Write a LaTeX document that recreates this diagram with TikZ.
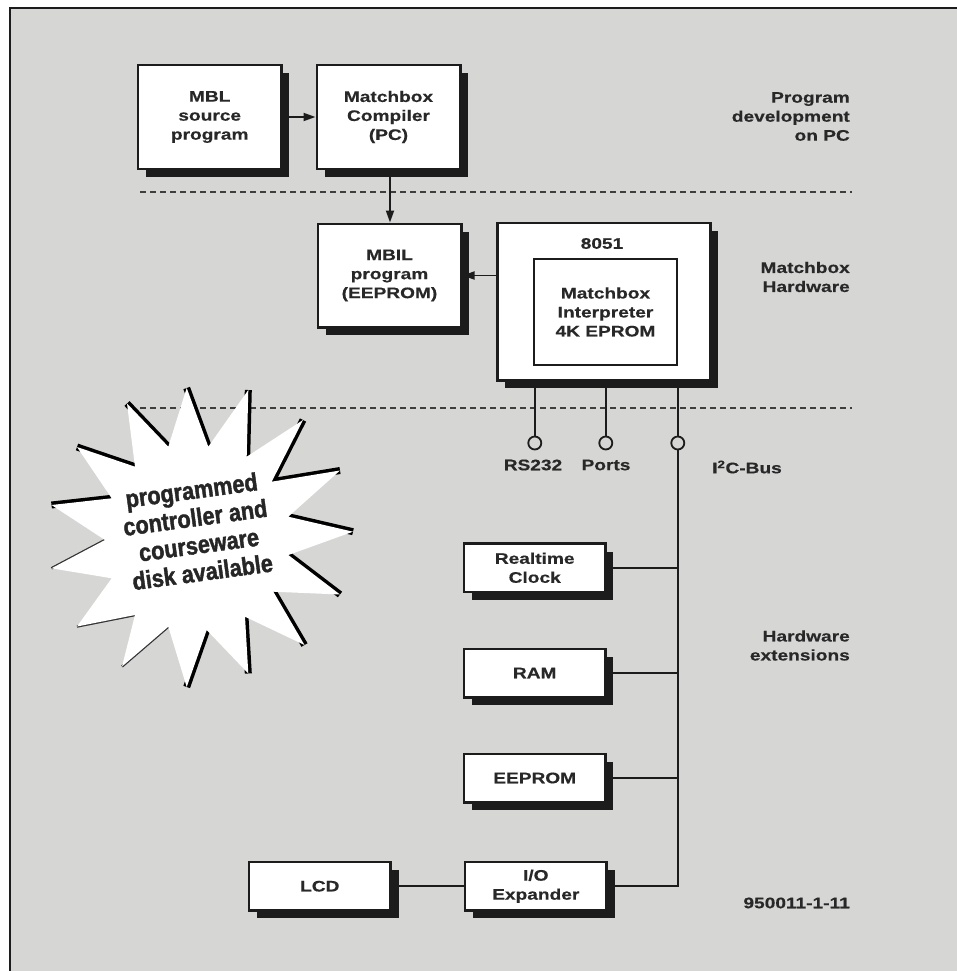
\documentclass[tikz,border=0pt]{standalone}
\usepackage{fontspec}
\usetikzlibrary{arrows.meta,shadows}
\newfontfamily\lblfont[FakeStretch=1.25,FakeBold=0.4]{Liberation Sans}
\newfontfamily\burstfont[FakeStretch=0.87,FakeBold=1.5]{Liberation Sans}
\definecolor{paper}{RGB}{214,214,212}
\definecolor{ink}{RGB}{28,28,28}
\definecolor{txt}{RGB}{40,40,40}
\tikzset{
  lbl/.style={font=\lblfont\bfseries\fontsize{15.3}{19}\selectfont, text=txt, align=center, inner sep=0pt},
  rlbl/.style={lbl, align=right, anchor=east},
  shadowbox/.style={draw=ink, line width=2.5pt, fill=white, lbl,
    drop shadow={shadow xshift=8pt, shadow yshift=-8pt, fill=ink, opacity=1}},
  bigbox/.style={shadowbox, minimum width=143.5pt, minimum height=103.5pt},
  smallbox/.style={shadowbox, minimum width=141.5pt, minimum height=48.5pt},
  wire/.style={draw=ink, line width=1.8pt},
  flow/.style={wire, -{Triangle[length=12pt,width=8pt]}},
  sep/.style={draw=ink!85, line width=1.8pt, dash pattern=on 6pt off 4pt},
  port/.style={circle, draw=ink, line width=1.8pt, fill=paper, minimum size=13pt, inner sep=0pt},
  spike/.style={draw=black, line width=7pt, line cap=butt},
  thinspike/.style={draw=black!80, line width=2.5pt, line cap=butt}
}
\begin{document}
\begin{tikzpicture}[x=1pt,y=-1pt]
\useasboundingbox (0,0) rectangle (957,971);
% page and frame
\fill[white] (0,0) rectangle (957,971);
\fill[paper] (10,8) rectangle (957,971);
\draw[ink, line width=2.5pt] (10,971) -- (10,8) -- (957,8);

% section separators
\coordinate (s1a) at (140,192);
\coordinate (s1b) at (852,192);
\coordinate (s2a) at (140,408);
\coordinate (s2b) at (852,408);
\draw[sep] (s1a) -- (s1b);
\draw[sep] (s2a) -- (s2b);

% program development
\node[bigbox] (src)  at (209.7,117) {MBL\\source\\program};
\node[bigbox] (comp) at (388.5,117) {Matchbox\\Compiler\\(PC)};
% matchbox hardware
\node[bigbox] (mbil) at (389.5,275.5) {MBIL\\program\\(EEPROM)};
\node[shadowbox, minimum width=213pt, minimum height=157.5pt] (cpu) at (603.8,301.7) {};
\node[draw=ink, line width=2pt, fill=white, lbl, minimum width=142.5pt, minimum height=105.5pt] (interp) at (605.5,312) {Matchbox\\Interpreter\\4K EPROM};
\node[lbl] (t8051) at (602,243.5) {8051};

% hardware extensions
\node[smallbox] (rtc)    at (534.7,567.8) {Realtime\\Clock};
\node[smallbox] (ram)    at (534.7,673) {RAM};
\node[smallbox] (eeprom) at (534.7,778) {EEPROM};
\node[smallbox] (ioexp)  at (535.8,886.2) {I/O\\Expander};
\node[smallbox] (lcd)    at (319.8,886.2) {LCD};

% ports of the 8051
\node[port] (p1) at (534.8,443) {};
\node[port] (p2) at (605.8,443) {};
\node[port] (p3) at (677.8,443) {};
\node[lbl] (l1) at (533,465) {RS232};
\node[lbl] (l2) at (606,465) {Ports};
\node[lbl, anchor=west] (l3) at (712,467) {I\textsuperscript{2}C-Bus};
\coordinate (busend) at (677.8,886.2);

% connections
\draw[flow] (src.east |- comp.west) -- (comp.west);
\draw[flow] (comp.south -| 390,0) -- (mbil.north -| 390,0);
\draw[flow] (mbil.east -| cpu.west) -- (mbil.east);
\draw[wire] (cpu.south -| p1) -- (p1.north);
\draw[wire] (cpu.south -| p2) -- (p2.north);
\draw[wire] (cpu.south -| p3) -- (p3.north);
\draw[wire] (p3.south) -- (busend) -- (ioexp.east);
\draw[wire] (rtc.east) -- (rtc.east -| busend);
\draw[wire] (ram.east) -- (ram.east -| busend);
\draw[wire] (eeprom.east) -- (eeprom.east -| busend);
\draw[wire] (lcd.east) -- (ioexp.west);

% section titles
\node[rlbl] (h1) at (850,116.5) {Program\\development\\on PC};
\node[rlbl] (h2) at (850,277) {Matchbox\\Hardware};
\node[rlbl] (h3) at (850,645.5) {Hardware\\extensions};
\node[rlbl] (fig) at (850,903) {950011-1-11};

% starburst
\coordinate (t1) at (186.7,388);   \coordinate (i1) at (208.3,446.7);
\coordinate (t2) at (248.3,390);   \coordinate (i2) at (246.7,456.7);
\coordinate (t3) at (303,420);     \coordinate (i3) at (271.7,481.7);
\coordinate (t4) at (340,470.5);   \coordinate (i4) at (288.3,516.7);
\coordinate (t5) at (353,531.7);   \coordinate (i5) at (288.3,555);
\coordinate (t6) at (340,594.5);   \coordinate (i6) at (273.3,591.7);
\coordinate (t7) at (304.5,645);   \coordinate (i7) at (245,616.7);
\coordinate (t8) at (248.3,673.5); \coordinate (i8) at (206.7,630);
\coordinate (t9) at (186.7,687);   \coordinate (i9) at (168.3,626.7);
\coordinate (t10) at (122,666.5);  \coordinate (i10) at (135,615);
\coordinate (t11) at (77,626.5);   \coordinate (i11) at (111.7,578.3);
\coordinate (t12) at (51.5,568.3); \coordinate (i12) at (105,540);
\coordinate (t13) at (51.5,505);   \coordinate (i13) at (111.7,498.3);
\coordinate (t14) at (77,447);     \coordinate (i14) at (135,466.7);
\coordinate (t15) at (127,403.5);  \coordinate (i15) at (168.3,446.7);
% dark edges of the spikes
\draw[spike] (t1) -- (i1);
\draw[spike] (t2) -- (i2);
\draw[spike] (t3) -- (i3) -- (t4);
\draw[spike] (i4) -- (t5);
\draw[spike] (i5) -- (t6);
\draw[spike] (i6) -- (t7);
\draw[spike] (i7) -- (t8);
\draw[spike] (i8) -- (t9);
\draw[spike] (i13) -- (t13);
\draw[spike] (i14) -- (t14);
\draw[spike] (i15) -- (t15);
\draw[thinspike] (i9) -- (t10);
\draw[thinspike] (t12) -- (i12);
\draw[thinspike] (i10) -- (t11);
\fill[white] (t1) -- (i1) -- (t2) -- (i2) -- (t3) -- (i3) -- (t4) -- (i4) -- (t5) -- (i5)
  -- (t6) -- (i6) -- (t7) -- (i7) -- (t8) -- (i8) -- (t9) -- (i9) -- (t10) -- (i10)
  -- (t11) -- (i11) -- (t12) -- (i12) -- (t13) -- (i13) -- (t14) -- (i14) -- (t15) -- (i15) -- cycle;
\node[rotate=7.7, align=center, text=black!85, inner sep=0pt,
  font=\burstfont\bfseries\fontsize{25}{27.5}\selectfont] (offer) at (197,531)
  {programmed\\controller and\\courseware\\disk available};
\end{tikzpicture}
\end{document}
